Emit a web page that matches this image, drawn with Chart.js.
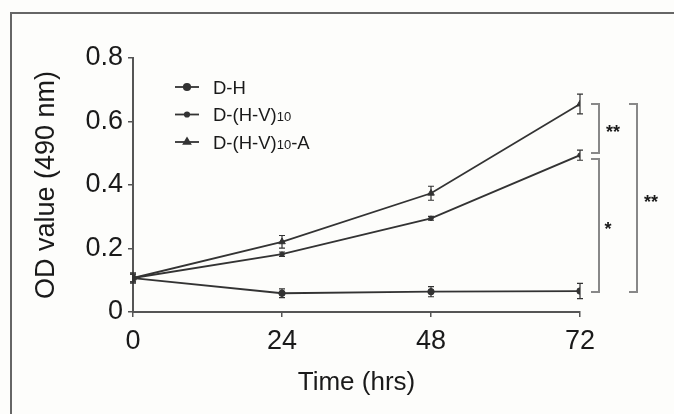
<!DOCTYPE html>
<html><head><meta charset="utf-8">
<script src="https://cdn.jsdelivr.net/npm/chart.js@4.4.0/dist/chart.umd.min.js"></script>
<style>html,body{margin:0;padding:0;background:#fdfdfb;} #wrap{width:674px;height:414px;position:relative;} canvas{display:block;}</style>
</head><body><div id="wrap"><canvas id="c" width="674" height="414"></canvas></div>
<script>
// ---- data ----
const timePoints = [0, 24, 48, 72];
const xTickLabels = ['0', '24', '48', '72'];
const seriesNames = ['D-H', 'D-(H-V)10', 'D-(H-V)10-A'];
const dH = [0.107, 0.059, 0.064, 0.066];
const dHErr = [0.016, 0.014, 0.016, 0.024];
const dHV = [0.107, 0.182, 0.295, 0.494];
const dHVErr = [0.012, 0.007, 0.006, 0.016];
const dHVA = [0.107, 0.221, 0.374, 0.655];
const dHVAErr = [0.012, 0.020, 0.022, 0.031];
const yTicks = [0, 0.2, 0.4, 0.6, 0.8];
const yTickLabels = ['0', '0.2', '0.4', '0.6', '0.8'];
const bracketTop = [0.655, 0.482, 0.655];
const bracketBottom = [0.501, 0.063, 0.063];
const bracketLabels = ['**', '*', '**'];

// ---- styles ----
const FONT = '"Liberation Sans", Arial, Helvetica, sans-serif';
Chart.defaults.font.family = FONT;
Chart.defaults.color = '#1a1a1a';
const lineColor = '#333';
const axisColor = '#555';

function makeDataset(label, values, errs, style, r) {
  return {
    label, data: timePoints.map((t, i) => ({x: t, y: values[i]})), errors: errs,
    borderColor: lineColor, backgroundColor: lineColor, borderWidth: 1.8,
    pointStyle: style, pointRadius: r, pointHoverRadius: r, pointBorderWidth: 1,
    tension: 0, fill: false
  };
}

const framePlugin = {
  id: 'frame',
  beforeDraw(chart) {
    const c = chart.ctx;
    c.save();
    c.fillStyle = '#fdfdfb';
    c.fillRect(0, 0, chart.width, chart.height);
    c.strokeStyle = '#666';
    c.lineWidth = 2;
    c.beginPath();
    c.moveTo(11, chart.height);
    c.lineTo(11, 13);
    c.lineTo(chart.width, 13);
    c.stroke();
    c.restore();
  }
};

const errorBarPlugin = {
  id: 'errorBars',
  afterDatasetsDraw(chart) {
    const c = chart.ctx, ys = chart.scales.y;
    c.save();
    c.strokeStyle = lineColor;
    c.lineWidth = 1.2;
    chart.data.datasets.forEach((ds, di) => {
      const meta = chart.getDatasetMeta(di);
      meta.data.forEach((pt, i) => {
        const v = ds.data[i].y, e = ds.errors[i];
        const y1 = ys.getPixelForValue(v + e), y2 = ys.getPixelForValue(v - e);
        const x = pt.x;
        c.beginPath();
        c.moveTo(x, y1); c.lineTo(x, y2);
        c.moveTo(x - 3, y1); c.lineTo(x + 3, y1);
        c.moveTo(x - 3, y2); c.lineTo(x + 3, y2);
        c.stroke();
      });
    });
    c.restore();
  }
};

const bracketPlugin = {
  id: 'brackets',
  afterDraw(chart, args, opts) {
    const c = chart.ctx, xs = chart.scales.x, ys = chart.scales.y;
    const x0 = xs.getPixelForValue(timePoints[timePoints.length - 1]);
    c.save();
    opts.layout.forEach((L, i) => {
      const yt = ys.getPixelForValue(bracketTop[i]);
      const yb = ys.getPixelForValue(bracketBottom[i]);
      c.strokeStyle = '#888';
      c.lineWidth = 2;
      c.beginPath();
      c.moveTo(x0 + L.h, yt); c.lineTo(x0 + L.v, yt);
      c.lineTo(x0 + L.v, yb); c.lineTo(x0 + L.h, yb);
      c.stroke();
      c.fillStyle = '#1a1a1a';
      c.font = 'bold 18px ' + FONT;
      c.textAlign = 'center';
      c.textBaseline = 'middle';
      c.fillText(bracketLabels[i], x0 + L.t, (yt + yb) / 2 + 5);
    });
    c.restore();
  }
};

const legendPlugin = {
  id: 'customLegend',
  afterDraw(chart, args, opts) {
    const c = chart.ctx;
    c.save();
    chart.data.datasets.forEach((ds, i) => {
      const y = opts.y0 + i * opts.dy;
      c.strokeStyle = lineColor;
      c.lineWidth = 1.8;
      c.beginPath();
      c.moveTo(opts.x0, y); c.lineTo(opts.x0 + opts.len, y);
      c.stroke();
      c.fillStyle = lineColor;
      Chart.helpers.drawPoint(c, {pointStyle: ds.pointStyle, radius: ds.pointRadius, borderWidth: 1, rotation: 0}, opts.x0 + opts.len / 2, y);
      // text with subscript "10"
      const parts = ds.label.split('10');
      let x = opts.tx;
      c.fillStyle = '#1a1a1a';
      c.textBaseline = 'alphabetic';
      c.textAlign = 'left';
      parts.forEach((p, k) => {
        c.font = opts.size + 'px ' + FONT;
        c.fillText(p, x, y + opts.size * 0.36);
        x += c.measureText(p).width;
        if (k < parts.length - 1) {
          c.font = opts.subSize + 'px ' + FONT;
          c.fillText('10', x, y + opts.size * 0.36);
          x += c.measureText('10').width;
        }
      });
    });
    c.restore();
  }
};

new Chart(document.getElementById('c'), {
  type: 'line',
  data: {
    datasets: [
      makeDataset(seriesNames[0], dH, dHErr, 'circle', 3.2),
      makeDataset(seriesNames[1], dHV, dHVErr, 'circle', 2.2),
      makeDataset(seriesNames[2], dHVA, dHVAErr, 'triangle', 3.8)
    ]
  },
  options: {
    responsive: false,
    animation: false,
    layout: {padding: {top: 58, right: 94, bottom: 0, left: 0}},
    plugins: {
      legend: {display: false},
      tooltip: {enabled: false},
      brackets: {layout: [{h: 11, v: 19, t: 33}, {h: 11, v: 19, t: 28}, {h: 49, v: 57, t: 71}]},
      customLegend: {x0: 175, len: 24, y0: 87, dy: 27.5, tx: 213, size: 18.5, subSize: 13}
    },
    scales: {
      x: {
        type: 'linear', min: 0, max: 72,
        afterBuildTicks: s => { s.ticks = timePoints.map(v => ({value: v})); },
        afterFit: s => { s.height = 102; },
        ticks: {callback: (v, i) => xTickLabels[i], font: {size: 27}, color: '#1a1a1a', padding: 8, maxRotation: 0},
        grid: {display: true, drawOnChartArea: false, drawTicks: true, tickLength: 5, color: axisColor, lineWidth: 1.5},
        border: {display: true, color: axisColor, width: 2},
        title: {display: true, text: 'Time (hrs)', font: {size: 26}, color: '#1a1a1a', padding: {top: 0, bottom: 16}}
      },
      y: {
        type: 'linear', min: 0, max: 0.8,
        afterBuildTicks: s => { s.ticks = yTicks.map(v => ({value: v})); },
        afterFit: s => { s.width = 133; },
        ticks: {callback: (v, i) => yTickLabels[i], font: {size: 27}, color: '#1a1a1a', padding: 5},
        grid: {display: true, drawOnChartArea: false, drawTicks: true, tickLength: 5, color: axisColor, lineWidth: 1.5},
        border: {display: true, color: axisColor, width: 2},
        title: {display: true, text: 'OD value (490 nm)', font: {size: 27}, color: '#1a1a1a', padding: {top: 30, bottom: 0}}
      }
    }
  },
  plugins: [framePlugin, errorBarPlugin, bracketPlugin, legendPlugin]
});
</script>
</body></html>
